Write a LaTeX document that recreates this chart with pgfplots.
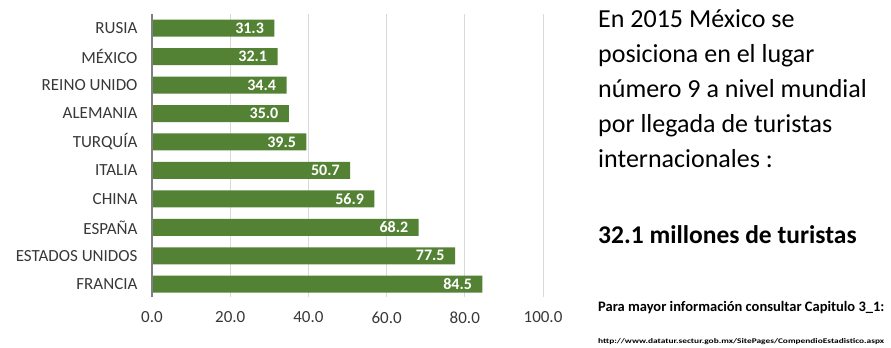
\documentclass[border=0pt]{standalone}
\usepackage{pgfplots}
\pgfplotsset{compat=1.18}
\usepackage{fontspec}
\setmainfont{Carlito}
\definecolor{bargreen}{HTML}{548235}
\definecolor{labgray}{HTML}{383838}
\definecolor{gridgray}{HTML}{D9D9D9}
\definecolor{axgray}{HTML}{7F7F7F}
\begin{document}
\begin{tikzpicture}[x=1bp,y=1bp]
\path[use as bounding box] (0,0) rectangle (891,347);
\begin{axis}[
  at={(152bp,50bp)}, anchor=south west,
  width=391bp, height=283bp, scale only axis,
  xbar, bar width=17bp,
  xmin=0, xmax=100, ymin=-0.45, ymax=9.5,
  xtick={0,20,40,60,80,100}, ytick={0,...,9},
  yticklabels={FRANCIA, ESTADOS UNIDOS\hspace{5bp}, ESPAÑA, CHINA\hspace{5bp}, ITALIA, TURQUÍA, ALEMANIA, REINO UNIDO, MÉXICO\hspace{5bp}, RUSIA},
  xmajorgrids, major grid style={gridgray, line width=1bp},
  axis line style={draw=none},
  major tick length=0pt, tick style={draw=none},
  /pgf/number format/assume math mode=true,
  xticklabel style={font=\fontsize{17bp}{20bp}\selectfont, text=labgray, yshift=-11bp,
    /pgf/number format/.cd, fixed, fixed zerofill, precision=1, /tikz/.cd},
  yticklabel style={font=\fontsize{17bp}{20bp}\selectfont, text=labgray, xshift=-11bp},
  nodes near coords={\pgfmathprintnumber[fixed,fixed zerofill,precision=1,assume math mode=true]{\pgfplotspointmeta}},
  every node near coord/.append style={anchor=east, xshift=-7bp, text=white, font=\bfseries\fontsize{16bp}{18bp}\selectfont},
  clip=false,
]
\addplot[fill=bargreen, draw=none] coordinates {
  (84.5,0) (77.5,1) (68.2,2) (56.9,3) (50.7,4) (39.5,5) (35.0,6) (34.4,7) (32.1,8) (31.3,9)
};
\draw[axgray, line width=2bp] (axis cs:0,-0.45) -- (axis cs:0,9.5);
\end{axis}
\begin{scope}[every node/.style={anchor=base west, inner sep=0pt, font=\fontsize{26bp}{32bp}\selectfont}]
\node at (598,320) {En 2015 México se};
\node at (598,285) {posiciona en el lugar};
\node at (598,250) {número 9 a nivel mundial};
\node at (598,215) {por llegada de turistas};
\node at (598,180) {internacionales :};
\node[font=\bfseries\fontsize{25.5bp}{30bp}\selectfont] at (598,104) {32.1 millones de turistas};
\node[font=\bfseries\fontsize{14.5bp}{16bp}\selectfont] at (598,36) {Para mayor información consultar Capitulo 3\_1:};
\node[font=\bfseries] at (598,4) {\resizebox{286bp}{5bp}{http://www.datatur.sectur.gob.mx/SitePages/CompendioEstadistico.aspx}};
\end{scope}
\end{tikzpicture}
\end{document}
